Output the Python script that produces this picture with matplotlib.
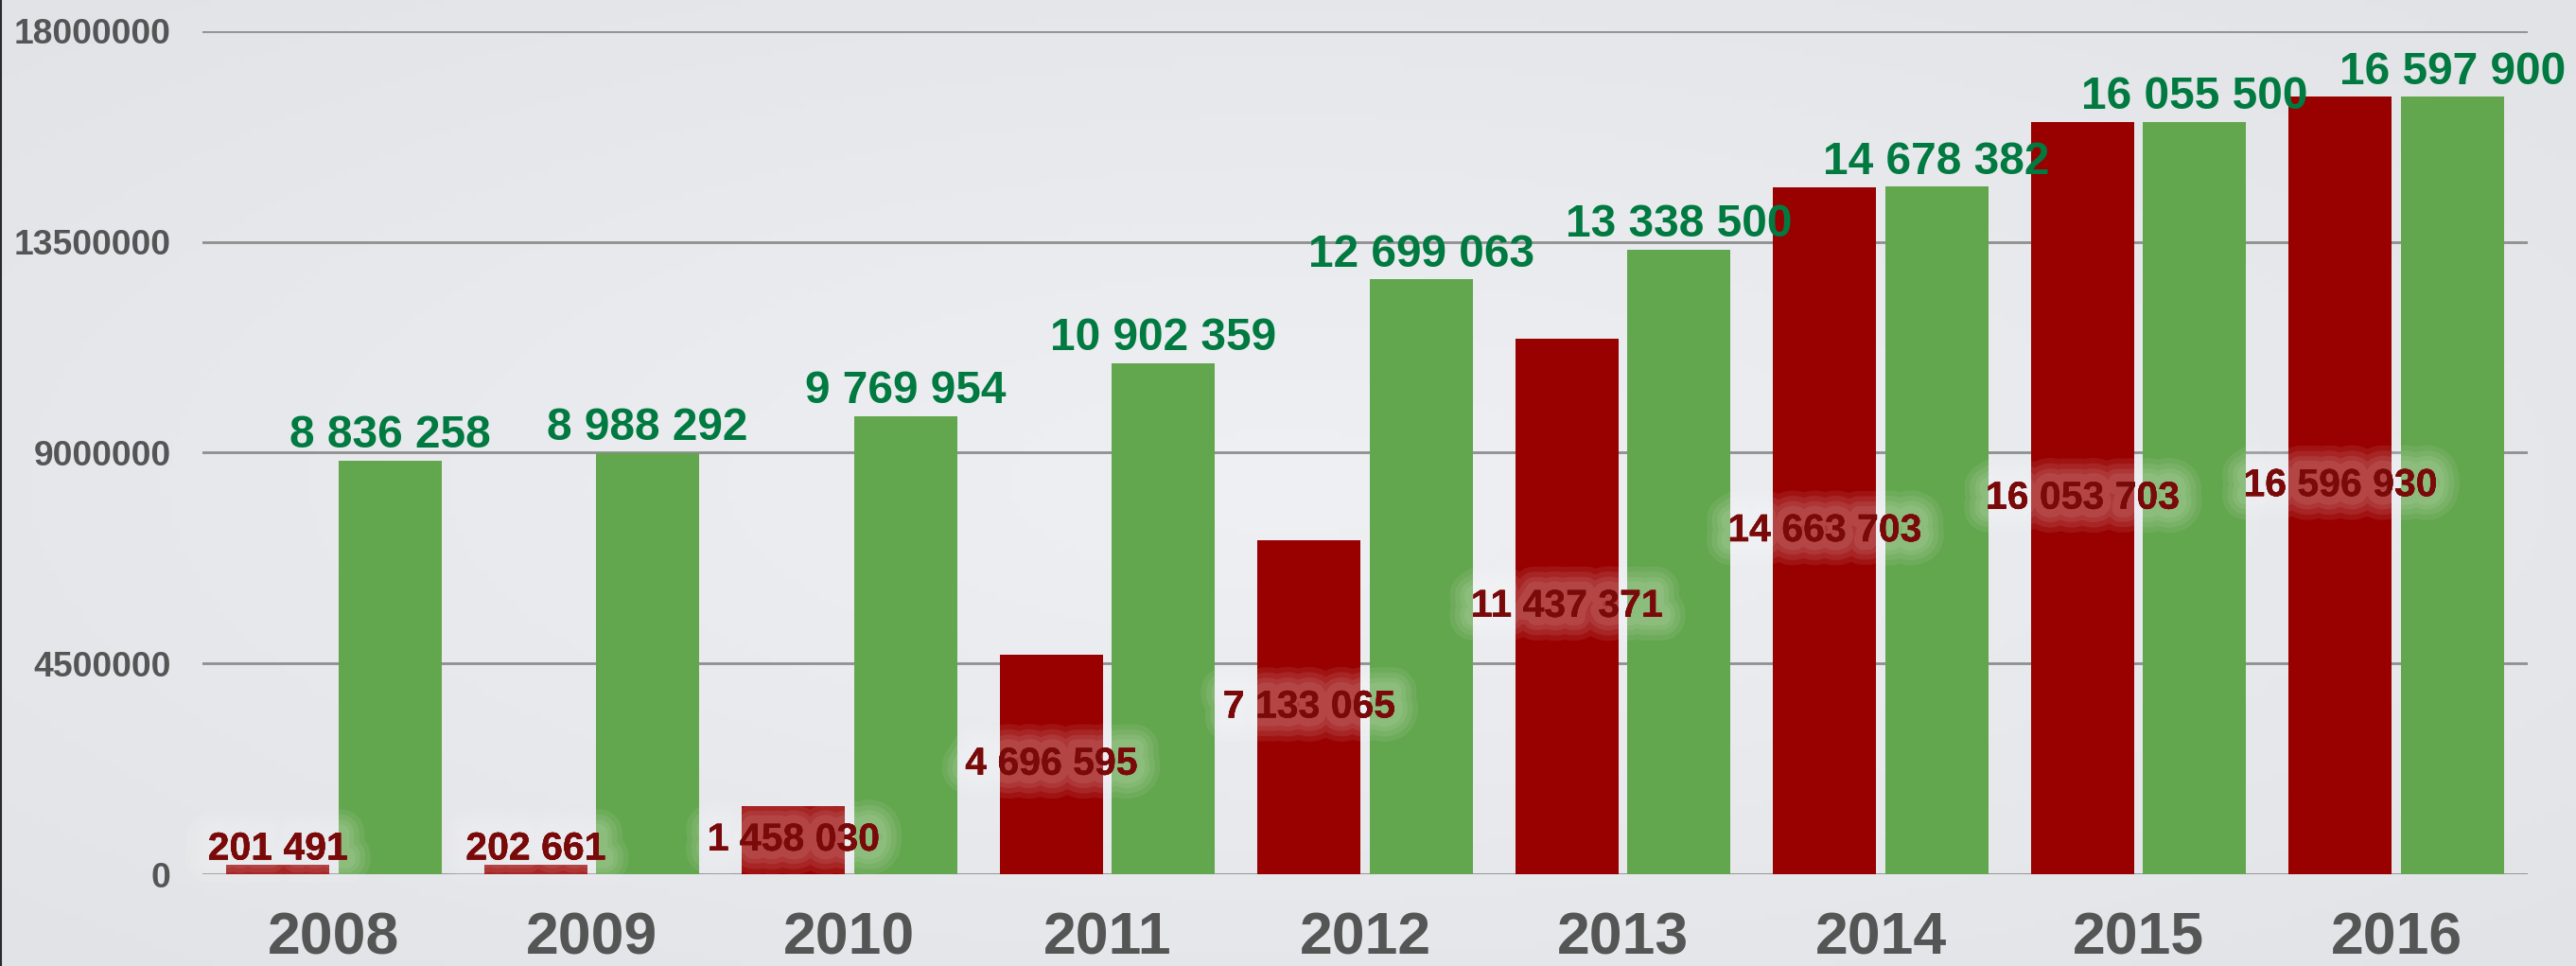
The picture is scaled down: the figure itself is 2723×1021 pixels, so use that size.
import numpy as np
import matplotlib
matplotlib.use('Agg')
import matplotlib.pyplot as plt
import matplotlib.patheffects as pe

years = ['2008', '2009', '2010', '2011', '2012', '2013', '2014', '2015', '2016']
red_values = [201491, 202661, 1458030, 4696595, 7133065, 11437371, 14663703, 16053703, 16596930]
green_values = [8836258, 8988292, 9769954, 10902359, 12699063, 13338500, 14678382, 16055500, 16597900]
y_ticks = [0, 4500000, 9000000, 13500000, 18000000]


def fmt(v):
    # thousands separated by spaces
    return '{:,}'.format(v).replace(',', ' ')


plt.rcParams['font.family'] = ['Liberation Sans', 'DejaVu Sans']
plt.rcParams['font.weight'] = 'bold'

W, H = 2723, 1021
fig = plt.figure(figsize=(W / 100, H / 100), dpi=100)

# soft grey background, lighter in the middle
bg = fig.add_axes([0, 0, 1, 1], zorder=-10)
gx, gy = np.meshgrid(np.linspace(-1, 1, 400), np.linspace(-1, 1, 150))
r = np.sqrt(gx ** 2 + gy ** 2) / np.sqrt(2)
c_in = np.array([0xef, 0xf0, 0xf4]) / 255
c_out = np.array([0xe1, 0xe3, 0xe6]) / 255
img = c_in[None, None, :] * (1 - r[..., None]) + c_out[None, None, :] * r[..., None]
bg.imshow(img, aspect='auto', extent=[0, 1, 0, 1])
bg.axvline(0.0004, color='#2a2a2a', lw=1.5)
bg.set_axis_off()

left, right = 214 / W, 2672 / W
bottom, top = 1 - 924 / H, 1 - 33 / H
ax = fig.add_axes([left, bottom, right - left, top - bottom])
ax.patch.set_alpha(0)

x = np.arange(len(years))
w = 0.40
off = 0.217
red = '#990000'
green = '#62a64e'

ax.bar(x - off, red_values, w, color=red, zorder=3)
ax.bar(x + off, green_values, w, color=green, zorder=3)

ax.set_xlim(-0.51, len(years) - 0.49)
ax.set_ylim(0, 18000000)

ax.set_yticks(y_ticks)
ax.set_yticklabels([str(t) for t in y_ticks], fontsize=26.8, color='#555555', fontweight='bold')
ax.set_xticks(x)
ax.set_xticklabels(years, fontsize=45, color='#555555', fontweight='bold')
ax.tick_params(axis='both', length=0)
ax.tick_params(axis='y', pad=24)
ax.tick_params(axis='x', pad=28)
ax.grid(axis='y', color='#8f8f8f', lw=2.0, zorder=1)
for s in ax.spines.values():
    s.set_visible(False)

glow = [pe.withStroke(linewidth=lw, foreground='white', alpha=0.08) for lw in (36, 28, 20, 13)] + [pe.Normal()]

for xi, v in zip(x, green_values):
    ax.annotate(fmt(v), (xi + off, v), xytext=(0, 10), textcoords='offset points',
                ha='center', va='baseline', fontsize=34.5, color='#007a40',
                fontweight='bold', zorder=6, annotation_clip=False)

for xi, v in zip(x, red_values):
    if v < 1000000:
        ax.annotate(fmt(v), (xi - off, v), xytext=(0, 4), textcoords='offset points',
                    ha='center', va='baseline', fontsize=29.5, color='#7a0a0a',
                    fontweight='bold', zorder=5, path_effects=glow)
    else:
        ax.text(xi - off, v / 2, fmt(v), ha='center', va='center', fontsize=29.5,
                color='#7a0a0a', fontweight='bold', zorder=5, path_effects=glow)

fig.savefig('out.png', dpi=100)
